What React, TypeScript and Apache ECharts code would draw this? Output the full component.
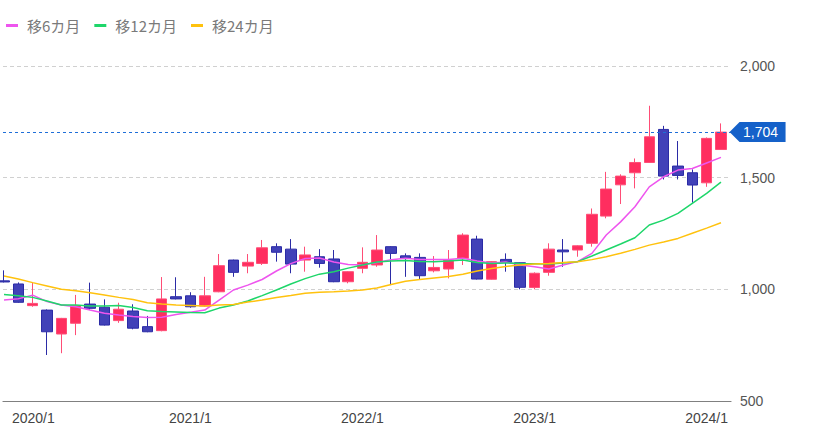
import React, { useEffect, useRef } from "react";
import * as echarts from "echarts";

const months = [
  "2019/12",
  "2020/1", "2020/2", "2020/3", "2020/4", "2020/5", "2020/6", "2020/7", "2020/8", "2020/9", "2020/10", "2020/11", "2020/12",
  "2021/1", "2021/2", "2021/3", "2021/4", "2021/5", "2021/6", "2021/7", "2021/8", "2021/9", "2021/10", "2021/11", "2021/12",
  "2022/1", "2022/2", "2022/3", "2022/4", "2022/5", "2022/6", "2022/7", "2022/8", "2022/9", "2022/10", "2022/11", "2022/12",
  "2023/1", "2023/2", "2023/3", "2023/4", "2023/5", "2023/6", "2023/7", "2023/8", "2023/9", "2023/10", "2023/11", "2023/12",
  "2024/1", "2024/2",
];

const openV = [
  1038,
  1024, 927, 907, 800, 848, 934, 920, 860, 903, 833, 815, 967,
  971, 925, 989, 1131, 1104, 1116, 1191, 1180, 1131, 1146, 1136, 1034,
  1094, 1109, 1191, 1150, 1143, 1083, 1091, 1139, 1225, 1045, 1134, 1119,
  1008, 1076, 1176, 1176, 1206, 1328, 1468, 1522, 1568, 1716, 1552, 1522,
  1477, 1626,
];
const closeV = [
  1033,
  942, 937, 810, 870, 927, 915, 840, 911, 826, 810, 957, 957,
  922, 971, 1106, 1076, 1121, 1186, 1166, 1113, 1154, 1116, 1034, 1079,
  1121, 1176, 1161, 1139, 1061, 1098, 1131, 1243, 1046, 1124, 1121, 1009,
  1072, 1180, 1168, 1195, 1336, 1449, 1507, 1568, 1683, 1507, 1510, 1467,
  1676, 1704,
];
const lowV = [
  1031,
  940, 922, 706, 714, 795, 907, 838, 850, 821, 808, 812, 955,
  918, 923, 987, 1056, 1072, 1109, 1124, 1072, 1079, 1097, 1032, 1027,
  1072, 1101, 1019, 1056, 1042, 1076, 1049, 1109, 1044, 1043, 1079, 1000,
  1000, 1061, 1101, 1146, 1191, 1318, 1382, 1452, 1566, 1492, 1492, 1388,
  1459, 1624,
];
const highV = [
  1085,
  1031, 1029, 910, 872, 975, 1030, 955, 940, 933, 881, 1055, 1054,
  987, 1056, 1158, 1133, 1158, 1221, 1206, 1225, 1191, 1180, 1176, 1081,
  1188, 1243, 1193, 1161, 1161, 1149, 1176, 1251, 1240, 1126, 1161, 1120,
  1076, 1206, 1225, 1197, 1362, 1526, 1515, 1586, 1822, 1732, 1664, 1537,
  1680, 1743,
];

const ma6 = [
  952,
  958, 974, 945, 930, 922, 907, 893, 885, 878, 874, 875, 887,
  897, 907, 952, 997, 1019, 1044, 1082, 1115, 1138, 1140, 1122, 1111,
  1109, 1120, 1133, 1139, 1134, 1134, 1134, 1139, 1127, 1118, 1122, 1109,
  1101, 1091, 1109, 1124, 1161, 1243, 1302, 1370, 1459, 1504, 1534, 1541,
  1566, 1591,
];
const ma12 = [
  977,
  971, 964, 948, 930, 930, 925, 925, 928, 919, 904, 901, 899,
  896, 895, 916, 930, 948, 972, 997, 1024, 1048, 1068, 1079, 1095,
  1109, 1122, 1127, 1129, 1125, 1124, 1127, 1131, 1120, 1116, 1118, 1116,
  1115, 1113, 1118, 1124, 1149, 1176, 1203, 1231, 1288, 1310, 1340, 1385,
  1430, 1480,
];
const ma24 = [
  1060,
  1046, 1030, 1015, 1000, 994, 985, 975, 964, 954, 940, 934, 930,
  928, 925, 930, 932, 943, 952, 963, 972, 982, 987, 989, 992,
  997, 1006, 1022, 1036, 1044, 1051, 1057, 1068, 1082, 1093, 1102, 1109,
  1113, 1116, 1120, 1124, 1133, 1146, 1162, 1179, 1198, 1212, 1228, 1251,
  1274, 1298,
];

const seriesNames = ["移6カ月", "移12カ月", "移24カ月"];
const seriesColors = ["#ee55ee", "#1ed66a", "#ffc20e"];
const xLabelIdx = [1, 13, 25, 37, 49];
const yMin = 500;
const yMax = 2000;
const yStep = 500;
const lastPrice = 1704;

export default function App() {
  const ref = useRef<HTMLDivElement>(null);

  useEffect(() => {
    document.body.style.margin = "0";
    const chart = echarts.init(ref.current as HTMLDivElement, null, { renderer: "svg" });
    const font = "Arial, 'Liberation Sans', Helvetica, sans-serif";
    const candleData = months.map((_, i) => [i, openV[i], closeV[i], lowV[i], highV[i]]);
    const toLine = (arr: number[]) => arr.map((v, i) => [i, v]);
    const maArrays = [ma6, ma12, ma24];

    chart.setOption({
      animation: false,
      grid: { left: 3, right: 89, top: 66, bottom: 40 },
      legend: {
        left: 1,
        top: 13,
        icon: "rect",
        itemWidth: 12,
        itemHeight: 3,
        itemGap: 14,
        data: seriesNames,
        textStyle: {
          color: "#7a7a7a",
          fontSize: 15,
          fontFamily: "'Noto Sans CJK JP', sans-serif",
          padding: [0, 0, 0, 4],
        },
      },
      xAxis: {
        type: "value",
        min: -0.07,
        max: 50.7,
        axisLine: { show: true, onZero: false, lineStyle: { color: "#808080", width: 1.2 } },
        axisTick: { show: false },
        splitLine: { show: false },
        axisLabel: {
          customValues: xLabelIdx,
          color: "#444",
          fontSize: 14,
          fontFamily: font,
          margin: 10,
          formatter: (v: number) => {
            const i = Math.round(v);
            return i === xLabelIdx[0] ? `{first|${months[i]}}` : months[i];
          },
          rich: {
            first: {
              padding: [0, 0, 0, 30],
              color: "#444",
              fontSize: 14,
              fontFamily: font,
            },
          },
        },
      },
      yAxis: {
        type: "value",
        position: "right",
        min: yMin,
        max: yMax,
        interval: yStep,
        axisLine: { show: false },
        axisTick: { show: false },
        splitLine: { show: true, lineStyle: { type: [4, 3], color: "#d0d0d0", width: 1 } },
        axisLabel: {
          color: "#555",
          fontSize: 14,
          fontFamily: font,
          margin: 9,
          formatter: (v: number) => v.toLocaleString("en-US"),
        },
      },
      series: [
        {
          type: "candlestick",
          barWidth: 11,
          encode: { x: 0, y: [1, 2, 3, 4] },
          data: candleData,
          itemStyle: {
            color: "#ff2e5f",
            color0: "#4141b8",
            borderColor: "#ff4d76",
            borderColor0: "#2b2ba6",
            borderWidth: 1,
          },
          markLine: {
            silent: true,
            symbol: ["none", "none"],
            label: { show: false },
            lineStyle: { color: "#1f6fd8", type: [3, 3], width: 1 },
            data: [{ yAxis: lastPrice }],
          },
          markPoint: {
            silent: true,
            symbol: "path://M0,10L10,0L56,0L56,20L10,20Z",
            symbolSize: [56, 20],
            symbolKeepAspect: false,
            symbolOffset: [28, 0],
            itemStyle: { color: "#1561c9" },
            label: {
              show: true,
              color: "#fff",
              fontSize: 14,
              fontFamily: font,
              offset: [3, 0],
              formatter: (p: any) => Number(p.value).toLocaleString("en-US"),
            },
            data: [{ coord: [50.6, lastPrice], value: lastPrice }],
          },
        },
        ...maArrays.map((arr, k) => ({
          type: "line",
          name: seriesNames[k],
          data: toLine(arr),
          showSymbol: false,
          symbol: "none",
          color: seriesColors[k],
          lineStyle: { color: seriesColors[k], width: 1.5 },
        })),
      ],
    });

    return () => chart.dispose();
  }, []);

  return <div ref={ref} style={{ width: 820, height: 441 }} />;
}
